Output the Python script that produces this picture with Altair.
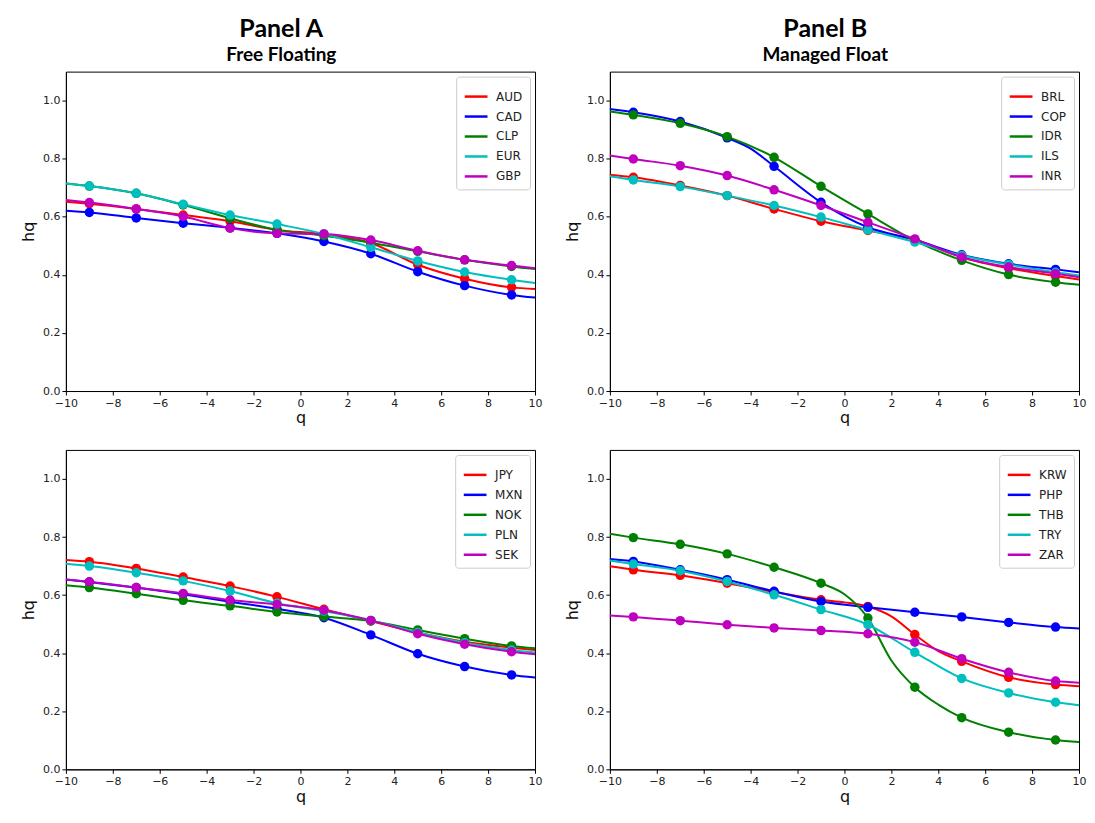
import altair as alt
import pandas as pd

# q positions at which the curves were read (markers sit on the odd ones)
Q = [-10, -9, -7, -5, -3, -1, 1, 3, 5, 7, 9, 10]
MARK_Q = [-9, -7, -5, -3, -1, 1, 3, 5, 7, 9]

# Panel A, top (Free Floating)
AUD = [0.652, 0.645, 0.627, 0.606, 0.585, 0.555, 0.540, 0.510, 0.435, 0.387, 0.357, 0.351]
CAD = [0.621, 0.615, 0.596, 0.578, 0.562, 0.543, 0.515, 0.473, 0.411, 0.363, 0.331, 0.322]
CLP = [0.715, 0.706, 0.681, 0.641, 0.595, 0.555, 0.535, 0.511, 0.481, 0.452, 0.429, 0.420]
EUR = [0.715, 0.706, 0.681, 0.643, 0.606, 0.575, 0.541, 0.495, 0.448, 0.410, 0.383, 0.372]
GBP = [0.658, 0.649, 0.627, 0.601, 0.561, 0.543, 0.541, 0.520, 0.483, 0.452, 0.432, 0.423]

# Panel B, top (Managed Float)
BRL = [0.745, 0.736, 0.708, 0.673, 0.627, 0.585, 0.553, 0.521, 0.461, 0.423, 0.396, 0.384]
COP = [0.971, 0.960, 0.928, 0.872, 0.774, 0.650, 0.564, 0.521, 0.469, 0.438, 0.419, 0.409]
IDR = [0.963, 0.951, 0.922, 0.876, 0.805, 0.705, 0.610, 0.518, 0.450, 0.401, 0.375, 0.366]
ILS = [0.740, 0.727, 0.704, 0.673, 0.639, 0.599, 0.555, 0.513, 0.467, 0.436, 0.409, 0.398]
INR = [0.811, 0.799, 0.776, 0.742, 0.693, 0.639, 0.581, 0.524, 0.461, 0.427, 0.404, 0.392]

# Panel A, bottom
JPY = [0.721, 0.715, 0.692, 0.662, 0.631, 0.594, 0.551, 0.511, 0.471, 0.439, 0.419, 0.411]
MXN = [0.654, 0.645, 0.626, 0.603, 0.577, 0.553, 0.522, 0.463, 0.398, 0.354, 0.325, 0.316]
NOK = [0.634, 0.626, 0.605, 0.582, 0.563, 0.542, 0.526, 0.511, 0.480, 0.450, 0.425, 0.417]
PLN = [0.708, 0.700, 0.677, 0.649, 0.614, 0.572, 0.545, 0.513, 0.471, 0.436, 0.411, 0.402]
SEK = [0.654, 0.646, 0.626, 0.606, 0.583, 0.568, 0.548, 0.513, 0.467, 0.431, 0.405, 0.396]

# Panel B, bottom
KRW = [0.699, 0.687, 0.668, 0.641, 0.611, 0.584, 0.561, 0.464, 0.372, 0.317, 0.292, 0.286]
PHP = [0.724, 0.716, 0.687, 0.653, 0.613, 0.578, 0.558, 0.541, 0.525, 0.506, 0.490, 0.485]
THB = [0.811, 0.798, 0.775, 0.742, 0.696, 0.641, 0.521, 0.283, 0.178, 0.128, 0.101, 0.094]
TRY = [0.719, 0.707, 0.684, 0.647, 0.601, 0.550, 0.498, 0.403, 0.313, 0.263, 0.231, 0.221]
ZAR = [0.530, 0.525, 0.512, 0.498, 0.487, 0.478, 0.467, 0.438, 0.381, 0.334, 0.304, 0.298]

# extra readings where a curve bends sharply
EXTRA = {
    "COP": {-4: 0.835},
    "KRW": {0: 0.575, 2: 0.527, 4: 0.407},
    "THB": {0: 0.603, 2: 0.375, 4: 0.223},
}

COLORS = ["#ff0000", "#0000ff", "#008000", "#00bfbf", "#bf00bf"]


def panel(series):
    names = [n for n, _ in series]
    line_rows, pt_rows = [], []
    for name, vals in series:
        pts = dict(zip(Q, vals))
        pts.update(EXTRA.get(name, {}))
        for q in sorted(pts):
            line_rows.append({"series": name, "q": q, "hq": pts[q]})
        for q in MARK_Q:
            pt_rows.append({"series": name, "q": q, "hq": pts[q]})
    dl = pd.DataFrame(line_rows)
    dp = pd.DataFrame(pt_rows)
    x = alt.X("q:Q", title="q",
              scale=alt.Scale(domain=[-10, 10], nice=False, zero=False),
              axis=alt.Axis(values=list(range(-10, 11, 2)), labelFlush=False,
                            labelOverlap=False, titlePadding=2))
    y = alt.Y("hq:Q", title="hq",
              scale=alt.Scale(domain=[0, 1.1], nice=False),
              axis=alt.Axis(values=[0, 0.2, 0.4, 0.6, 0.8, 1.0], format=".1f",
                            titlePadding=6))
    color = alt.Color("series:N", scale=alt.Scale(domain=names, range=COLORS),
                      legend=alt.Legend(orient="top-right", title=None,
                                        symbolType="stroke", symbolSize=520,
                                        symbolStrokeWidth=2.5,
                                        labelFont="DejaVu Sans", labelFontSize=12,
                                        labelColor="#222222", labelOffset=7,
                                        strokeColor="#cccccc", fillColor="white",
                                        padding=7, cornerRadius=3, rowPadding=1,
                                        offset=5))
    order = alt.Order("q:Q")
    line = alt.Chart(dl).mark_line(interpolate="monotone", strokeWidth=2).encode(
        x=x, y=y, color=color, order=order)
    dots = alt.Chart(dp).mark_circle(size=90, opacity=1).encode(
        x=x, y=y, color=alt.Color("series:N", scale=alt.Scale(domain=names, range=COLORS),
                                  legend=None))
    return alt.layer(line, dots).properties(width=470, height=320)


tl = panel([("AUD", AUD), ("CAD", CAD), ("CLP", CLP), ("EUR", EUR), ("GBP", GBP)])
tr = panel([("BRL", BRL), ("COP", COP), ("IDR", IDR), ("ILS", ILS), ("INR", INR)])
bl = panel([("JPY", JPY), ("MXN", MXN), ("NOK", NOK), ("PLN", PLN), ("SEK", SEK)])
br = panel([("KRW", KRW), ("PHP", PHP), ("THB", THB), ("TRY", TRY), ("ZAR", ZAR)])


def col_title(main, sub):
    return alt.TitleParams(text=main, subtitle=sub, anchor="middle",
                           font="Lato", subtitleFont="Lato",
                           fontSize=25, subtitleFontSize=19,
                           fontWeight="bold", subtitleFontWeight="bold",
                           color="black", subtitleColor="black",
                           subtitlePadding=4, offset=6)


left = alt.vconcat(tl, bl, spacing=22, title=col_title("Panel A", "Free Floating")).resolve_scale(color="independent")
right = alt.vconcat(tr, br, spacing=22, title=col_title("Panel B", "Managed Float")).resolve_scale(color="independent")

chart = alt.hconcat(left, right, spacing=21).resolve_scale(
    color="independent"
).properties(
    background="white",
    padding={"left": 12, "top": 8, "right": 0, "bottom": 2}
).configure_view(
    stroke="black", strokeWidth=1
).configure_axis(
    grid=False, domainColor="black", tickColor="black", labelColor="#222222",
    labelFont="DejaVu Sans", labelFontSize=11, titleFont="DejaVu Sans",
    titleFontSize=16, titleFontWeight="normal", titleColor="#111111", tickSize=4
)

chart.save("out.html", embed_options={"renderer": "svg", "actions": False})
